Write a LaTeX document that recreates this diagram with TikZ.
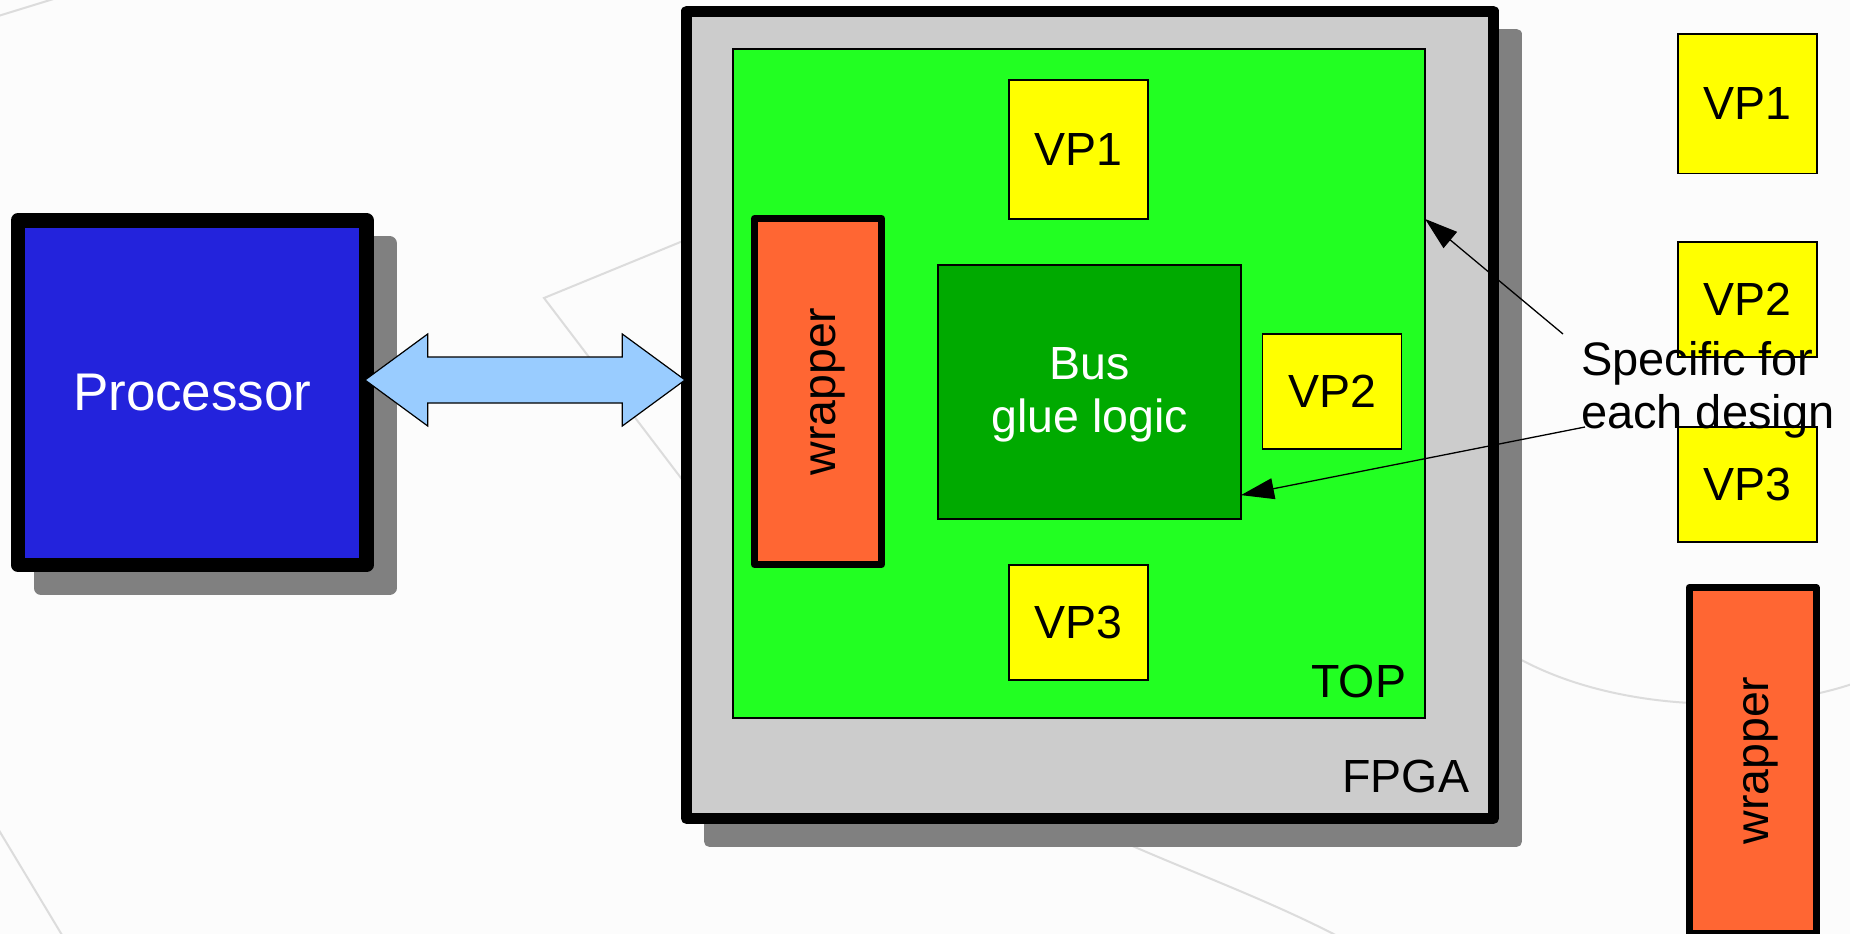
\documentclass[tikz,border=0pt]{standalone}
\usepackage{graphicx}
\usepackage{fontspec}
\setmainfont{Liberation Sans}
\usetikzlibrary{arrows.meta,shadows,calc}

\definecolor{pagebg}{HTML}{FCFCFC}
\definecolor{swirl}{HTML}{DCDCDC}
\definecolor{shadowgray}{HTML}{808080}
\definecolor{cpublue}{RGB}{35,35,220}
\definecolor{fpgagray}{HTML}{CCCCCC}
\definecolor{topgreen}{HTML}{22FF22}
\definecolor{gluegreen}{HTML}{00AA00}
\definecolor{vpyellow}{HTML}{FFFF00}
\definecolor{wraporange}{HTML}{FF6633}
\definecolor{busblue}{HTML}{99CCFF}

\begin{document}
\begin{tikzpicture}[x=1pt,y=-1pt,
  every node/.style={inner sep=0pt, outer sep=0pt},
  labelfont/.style={font=\fontsize{46.5}{53}\selectfont},
  block/.style={rectangle, draw=black, line width=1.2pt, labelfont},
  vpbox/.style={block, fill=vpyellow, minimum width=139pt},
  thickbox/.style={rectangle, draw=black, line join=round},
  castshadow/.style={drop shadow={shadow xshift=23pt, shadow yshift=-23pt,
      opacity=1, fill=shadowgray, draw=shadowgray, line width=#1, line join=round}},
  wrapbox/.style={thickbox, line width=7pt, fill=wraporange,
      minimum width=127pt, minimum height=346pt},
  swirlline/.style={draw=swirl, line width=2pt},
  note/.style={-{Triangle[length=33pt,width=21pt]}, line width=1.3pt},
  busarrow/.style={fill=busblue, draw=black, line width=1.2pt, line join=miter}
]
% page
\useasboundingbox (0,0) rectangle (1850,934);
\clip (0,0) rectangle (1850,934);
\fill[pagebg] (0,0) rectangle (1850,934);

% faint template lines in the background
\draw[swirlline] (-5,17) -- (60,-3);
\draw[swirlline] (700,234) -- (544,298) -- (700,503);
\draw[swirlline] (1516,657) .. controls (1614,712) and (1760,715) .. (1852,684);
\draw[swirlline] (1110,836) .. controls (1180,868) and (1270,900) .. (1345,940);
\draw[swirlline] (-3,827) -- (65,940);

% processor
\node[thickbox, line width=14.5pt, fill=cpublue, castshadow=14.5pt,
      minimum width=348.8pt, minimum height=344.5pt, text=white,
      font=\fontsize{53}{60}\selectfont] (proc) at (192.3,392.5) {Processor};

% FPGA with its TOP level
\node[thickbox, line width=11pt, fill=fpgagray, castshadow=11pt,
      minimum width=807pt, minimum height=807.3pt] (fpga) at (1090,414.85) {};
\node[block, fill=topgreen, minimum width=692pt, minimum height=669pt] (top) at (1079,383.5) {};
\node[labelfont, anchor=base east] (toplbl) at (1406,697) {TOP};
\node[labelfont, anchor=base east] (fpgalbl) at (1469,792) {FPGA};

\node[vpbox, minimum height=139pt] (vp1) at (1078.5,149.5) {VP1};
\node[vpbox, minimum height=115pt] (vp2) at (1332,391.5) {VP2};
\node[vpbox, minimum height=115pt] (vp3) at (1078.5,622.5) {VP3};
\node[block, fill=gluegreen, minimum width=303pt, minimum height=254pt] (glue) at (1089.5,392) {};
\node[labelfont, text=white, align=center] (gluelbl) at (1089.5,395) {Bus\\glue logic};
\node[wrapbox] (wrapin) at (818,391.5) {};
\node[labelfont, rotate=90] (wrapinlbl) at ($(wrapin.center)+(10,0)$) {wrapper};

% bus between processor and FPGA
\path (proc.east |- 0,380) ++(-1.7,0) coordinate (tipL);
\path (fpga.west |- 0,380) ++(-1.5,0) coordinate (tipR);
\draw[busarrow] (tipL) -- ++(62.7,-46) -- ++(0,23) -- ($(tipR)+(-62.7,-23)$)
  -- ++(0,-23) -- (tipR) -- ++(-62.7,46) -- ++(0,-23) -- ($(tipL)+(62.7,23)$)
  -- ++(0,23) -- cycle;

% design-specific parts
\node[vpbox, minimum height=139.4pt] (vp1r) at (1747.5,103.7) {VP1};
\node[vpbox, minimum height=115pt] (vp2r) at (1747.5,299.5) {VP2};
\node[vpbox, minimum height=115pt] (vp3r) at (1747.5,484.5) {VP3};
\node[wrapbox] (wrapr) at (1752.5,760.5) {};
\node[labelfont, rotate=90] (wraprlbl) at ($(wrapr.center)+(8,0)$) {wrapper};

% annotation
\node[font=\fontsize{47}{53}\selectfont, align=left, anchor=north west] (spec) at (1581,341.5)
  {Specific for\\each design};
\coordinate (n1) at ($(spec.north west)+(-18,-7.5)$);
\coordinate (n2) at ($(spec.north west)+(4,85.5)$);
\draw[note] (n1) -- ($(top.north east)!0.254!(top.south east)$);
\draw[note] (n2) -- ($(glue.north east)!0.906!(glue.south east)$);
\end{tikzpicture}
\end{document}
